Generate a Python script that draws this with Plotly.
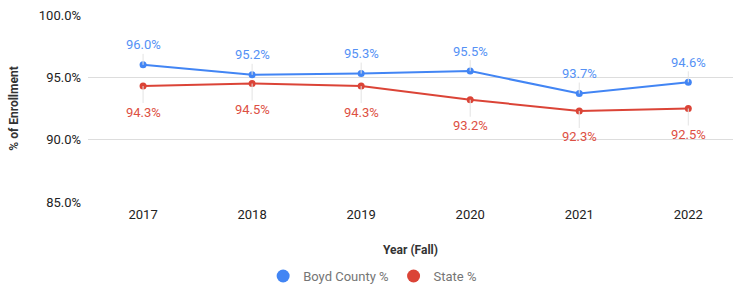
import plotly.graph_objects as go

years = [2017, 2018, 2019, 2020, 2021, 2022]
boyd = [96.0, 95.2, 95.3, 95.5, 93.7, 94.6]
state = [94.3, 94.5, 94.3, 93.2, 92.3, 92.5]
y_ticks = [85, 90, 95, 100]

BLUE = "#4285F4"
RED = "#DB4437"
FONT = "Roboto, Arial, sans-serif"

fig = go.Figure()
fig.add_trace(go.Scatter(x=years, y=boyd, mode="lines+markers", name="Boyd County %",
                         line=dict(color=BLUE, width=2), marker=dict(size=7, color=BLUE),
                         showlegend=False, hoverinfo="skip"))
fig.add_trace(go.Scatter(x=years, y=state, mode="lines+markers", name="State %",
                         line=dict(color=RED, width=2), marker=dict(size=7, color=RED),
                         showlegend=False, hoverinfo="skip"))
# legend-only circle entries
fig.add_trace(go.Scatter(x=[None], y=[None], mode="markers", name="Boyd County %",
                         marker=dict(size=13, color=BLUE)))
fig.add_trace(go.Scatter(x=[None], y=[None], mode="markers", name="State %",
                         marker=dict(size=13, color=RED)))

annotations = []
for x, v in zip(years, boyd):
    annotations.append(dict(x=x, y=v, xref="x", yref="y", text=f"{v:.1f}%",
                            showarrow=True, arrowhead=0, arrowwidth=1, arrowcolor="#e3e3e3",
                            ax=0, ay=-20, standoff=0,
                            font=dict(family=FONT, size=13, color="#5591f5")))
for x, v in zip(years, state):
    annotations.append(dict(x=x, y=v, xref="x", yref="y", text=f"{v:.1f}%",
                            showarrow=True, arrowhead=0, arrowwidth=1, arrowcolor="#e3e3e3",
                            ax=0, ay=26, standoff=0,
                            font=dict(family=FONT, size=13, color="#dd4f43")))

fig.update_layout(
    width=735, height=284,
    margin=dict(l=88, r=2, t=15, b=82, autoexpand=False),
    paper_bgcolor="white", plot_bgcolor="white",
    font=dict(family=FONT, size=13, color="#222222"),
    annotations=annotations,
    legend=dict(orientation="h", xref="container", x=0.507, xanchor="center",
                yref="paper", y=-0.396, yanchor="middle",
                font=dict(family=FONT, size=13, color="#757575"),
                tracegroupgap=0),
    xaxis=dict(tickmode="array", tickvals=years, ticktext=[str(y) for y in years],
               range=[2016.495, 2022.41], showgrid=False, zeroline=False, showline=False,
               ticks="", ticklabelstandoff=3, tickfont=dict(size=13, color="#222222"),
               title=dict(text="<b>Year (Fall)</b>", font=dict(size=12, color="#333333"),
                          standoff=24)),
    yaxis=dict(range=[85, 100], tickvals=y_ticks, ticktext=[f"{t:.1f}%" for t in y_ticks],
               gridcolor="#dddddd", gridwidth=1, zeroline=False, showline=False, ticks="",
               ticklabelstandoff=6, tickfont=dict(size=13, color="#222222"),
               title=dict(text="<b>% of Enrollment</b>", font=dict(size=12, color="#333333"),
                          standoff=17)),
)

fig.write_html("out.html", post_script="document.body.style.margin='0px';",
               config={"displayModeBar": False})
